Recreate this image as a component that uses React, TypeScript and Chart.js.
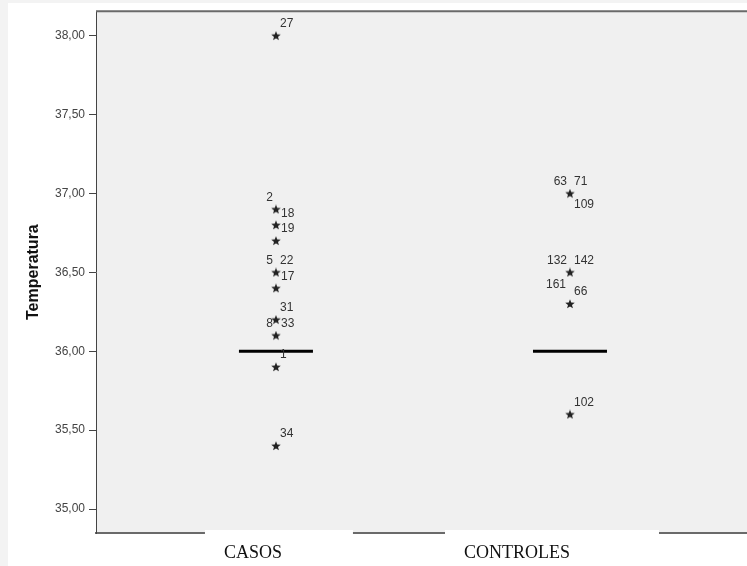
import React, { useEffect, useRef } from "react";
import { Chart, registerables } from "chart.js";

Chart.register(...registerables);

// ---------- data ----------
const categories = ["CASOS", "CONTROLES"];
const medians = [36.0, 36.0];
const casosValues = [38.0, 36.9, 36.8, 36.7, 36.5, 36.4, 36.2, 36.1, 35.9, 35.4];
const casosIds = [["27"], ["2", "18"], ["19"], [], ["5", "22", "17"], [], ["31", "8", "33"], [], ["1"], ["34"]];
const controlesValues = [37.0, 36.5, 36.3, 35.6];
const controlesIds = [["63", "71", "109"], ["132", "142", "161"], ["66"], ["102"]];
const yTickValues = [35.0, 35.5, 36.0, 36.5, 37.0, 37.5, 38.0];
const yTitle = "Temperatura";

// ---------- style ----------
const casosIdPlacement = [["ne"], ["nw", "e"], ["e"], [], ["nw", "ne", "e"], [], ["ne", "w", "e"], [], ["ne"], ["ne"]];
const controlesIdPlacement = [["nw", "ne", "se"], ["nw", "ne", "sw"], ["ne"], ["ne"]];
const placementOffsets: Record<string, { dx: number; dy: number; align: CanvasTextAlign }> = {
  ne: { dx: 4, dy: -12, align: "left" },
  nw: { dx: -3, dy: -12, align: "right" },
  e: { dx: 5, dy: 4, align: "left" },
  w: { dx: -3, dy: 4, align: "right" },
  se: { dx: 4, dy: 11, align: "left" },
  sw: { dx: -4, dy: 12, align: "right" },
};
const catLabelStyle = [
  { textDx: -52, boxL: -71, boxR: 77 },
  { textDx: -106, boxL: -125, boxR: 89 },
];

function makeStar(size: number, color: string) {
  const c = document.createElement("canvas");
  c.width = size;
  c.height = size;
  const ctx = c.getContext("2d")!;
  const cx = size / 2;
  const cy = size / 2 + 0.3;
  const R = size / 2;
  const r = R * 0.42;
  ctx.beginPath();
  for (let i = 0; i < 10; i++) {
    const ang = -Math.PI / 2 + (i * Math.PI) / 5;
    const rad = i % 2 === 0 ? R : r;
    ctx.lineTo(cx + rad * Math.cos(ang), cy + rad * Math.sin(ang));
  }
  ctx.closePath();
  ctx.fillStyle = color;
  ctx.fill();
  return c;
}

export default function App() {
  const ref = useRef<HTMLCanvasElement | null>(null);

  useEffect(() => {
    document.body.style.margin = "0";
    const canvas = ref.current!;
    const star = makeStar(10, "#222");

    const decorPlugin = {
      id: "decor",
      beforeDraw(chart: any) {
        const { ctx, chartArea: a, width, height } = chart;
        ctx.save();
        ctx.fillStyle = "#ffffff";
        ctx.fillRect(0, 0, width, height);
        ctx.fillStyle = "#f3f3f3";
        ctx.fillRect(0, 0, 8, height);
        ctx.fillRect(0, 0, width, 3);
        ctx.fillStyle = "#f0f0f0";
        ctx.fillRect(a.left, a.top, a.right - a.left, a.bottom - a.top);
        ctx.restore();
      },
      afterDraw(chart: any) {
        const { ctx, chartArea: a, height } = chart;
        const xs = chart.scales.x;
        const ys = chart.scales.y;
        ctx.save();
        // top border
        ctx.strokeStyle = "#6a6a6a";
        ctx.lineWidth = 2;
        ctx.beginPath();
        ctx.moveTo(a.left, a.top);
        ctx.lineTo(a.right, a.top);
        ctx.stroke();
        // category labels with white boxes
        categories.forEach((cat, i) => {
          const px = xs.getPixelForValue(i + 1);
          const s = catLabelStyle[i];
          ctx.fillStyle = "#ffffff";
          ctx.fillRect(px + s.boxL, a.bottom - 3, s.boxR - s.boxL, height - a.bottom + 3);
          ctx.fillStyle = "#111";
          ctx.font = "18px 'Liberation Serif', 'Times New Roman', serif";
          ctx.textAlign = "left";
          ctx.textBaseline = "alphabetic";
          ctx.fillText(cat, px + s.textDx, a.bottom + 25);
        });
        // case id labels
        ctx.font = "12px 'Liberation Sans', Arial, sans-serif";
        ctx.fillStyle = "#333";
        ctx.textBaseline = "middle";
        const groups = [
          { vals: casosValues, ids: casosIds, pl: casosIdPlacement, x: 1 },
          { vals: controlesValues, ids: controlesIds, pl: controlesIdPlacement, x: 2 },
        ];
        groups.forEach((g) => {
          const px = xs.getPixelForValue(g.x);
          g.vals.forEach((v, j) => {
            const py = ys.getPixelForValue(v);
            g.ids[j].forEach((id, k) => {
              const o = placementOffsets[g.pl[j][k]];
              ctx.textAlign = o.align;
              ctx.fillText(id, px + o.dx, py + o.dy);
            });
          });
        });
        ctx.restore();
      },
    };

    const chart = new Chart(canvas, {
      type: "scatter",
      data: {
        datasets: [
          {
            label: "medians",
            data: medians.map((m, i) => ({ x: i + 1, y: m })),
            pointStyle: "line",
            pointRadius: 37,
            pointHoverRadius: 37,
            borderColor: "#000",
            backgroundColor: "#000",
            borderWidth: 3,
          },
          {
            label: categories[0],
            data: casosValues.map((v) => ({ x: 1, y: v })),
            pointStyle: star as any,
            pointRadius: 5,
          },
          {
            label: categories[1],
            data: controlesValues.map((v) => ({ x: 2, y: v })),
            pointStyle: star as any,
            pointRadius: 5,
          },
        ],
      },
      options: {
        animation: false,
        responsive: false,
        devicePixelRatio: 1,
        events: [],
        layout: { autoPadding: false, padding: { top: 9, right: 0, left: 0, bottom: 0 } },
        plugins: { legend: { display: false }, tooltip: { enabled: false } },
        scales: {
          x: {
            type: "linear",
            min: 0.388,
            max: 2.602,
            ticks: { display: false },
            grid: { display: true, drawOnChartArea: false, drawTicks: false },
            border: { display: true, color: "#6a6a6a", width: 2 },
            afterFit(scale: any) {
              scale.height = 33;
            },
          },
          y: {
            type: "linear",
            min: 34.848,
            max: 38.156,
            afterBuildTicks(scale: any) {
              scale.ticks = yTickValues.map((v) => ({ value: v }));
            },
            ticks: {
              color: "#444",
              padding: 4,
              font: { family: "'Liberation Sans', Arial, sans-serif", size: 12 },
              callback: (v: any) => Number(v).toFixed(2).replace(".", ","),
            },
            grid: { drawOnChartArea: false, drawTicks: true, tickLength: 7, color: "#444", tickColor: "#444" },
            border: { display: true, color: "#444", width: 1 },
            title: {
              display: true,
              text: yTitle,
              color: "#111",
              font: { family: "'Liberation Sans', Arial, sans-serif", size: 16, weight: "bold" },
              padding: { top: 24, bottom: 0 },
            },
            afterFit(scale: any) {
              scale.width = 96;
            },
          },
        },
      },
      plugins: [decorPlugin],
    });
    return () => chart.destroy();
  }, []);

  return <canvas ref={ref} width={747} height={566} style={{ display: "block", width: 747, height: 566 }} />;
}
